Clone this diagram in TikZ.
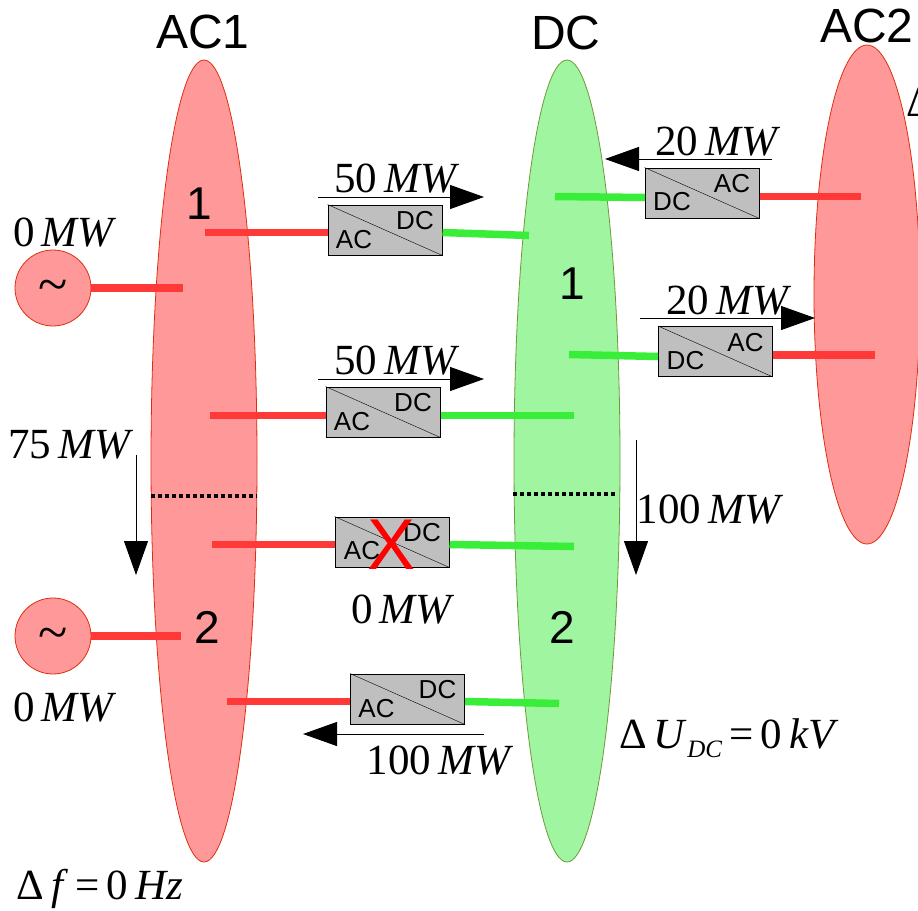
\documentclass[tikz,border=0pt]{standalone}
\usepackage{fontspec}
\setmainfont{Liberation Serif}
\newfontfamily\labelsans{Liberation Sans}
\usetikzlibrary{arrows.meta,shapes.geometric}
\definecolor{acfill}{HTML}{FF9999}
\definecolor{acedge}{HTML}{DD2E10}
\definecolor{dcfill}{HTML}{A0F5A0}
\definecolor{dcedge}{HTML}{6E9A3A}
\definecolor{acwire}{HTML}{FF3838}
\definecolor{dcwire}{HTML}{38EE38}
\tikzset{
  acbus/.style={ellipse, draw=acedge, fill=acfill, line width=0.8pt, minimum width=106pt, inner sep=0pt},
  dcbus/.style={ellipse, draw=dcedge, fill=dcfill, line width=0.8pt, minimum width=106pt, minimum height=802pt, inner sep=0pt},
  gen/.style={circle, draw=acedge, fill=acfill, line width=0.8pt, minimum size=76pt, inner sep=0pt, font=\fontsize{54}{54}\selectfont},
  acline/.style={acwire, line width=7.5pt},
  dcline/.style={dcwire, line width=7.5pt},
  convbox/.style={rectangle, draw=black, fill=black!25, line width=1pt, minimum width=114pt, minimum height=50pt, inner sep=0pt},
  convtxt/.style={inner sep=0pt, font=\labelsans\fontsize{26}{26}\selectfont},
  title/.style={inner sep=0pt, font=\labelsans\fontsize{48}{48}\selectfont},
  zone/.style={inner sep=0pt, font=\labelsans\fontsize{46}{46}\selectfont},
  power/.style={inner sep=0pt, yshift=-1pt, font=\fontsize{43}{43}\selectfont},
  flow/.style={black, line width=1pt, -{Triangle[length=34pt,width=24pt]}},
  cut/.style={black, line width=3.5pt, dash pattern=on 3.5pt off 3.5pt}
}
\begin{document}
\begin{tikzpicture}[x=1pt,y=-1pt]
    \clip (0,0) rectangle (918,910);

    % Buses
    \node[acbus, minimum height=802pt] (ac1) at (204,461) {};
    \node[dcbus] (dc) at (567,461) {};
    \node[acbus, minimum height=499pt] (ac2) at (867,294.5) {};
    \node[gen] (g1) at (53,288) {\raisebox{-14pt}[0pt][0pt]{\textasciitilde}};
    \node[gen] (g2) at (53,636) {\raisebox{-14pt}[0pt][0pt]{\textasciitilde}};

    % Titles
    \node[title] (ac1title) at (203,32) {AC1};
    \node[title] (dctitle) at (566,33) {DC};
    \node[title] (ac2title) at (867,26) {AC2};
    \node[zone] (zone1) at (199,204) {1};
    \node[zone] (zone2) at (207,627) {2};
    \node[zone] (zone3) at (572,284) {1};
    \node[zone] (zone4) at (562,627) {2};

    % Wire ends
    \coordinate (ga1) at (183,288);
    \coordinate (ga2) at (181,636);
    \coordinate (a1) at (205,232.5);
    \coordinate (a2) at (210,415.5);
    \coordinate (a3) at (212,544.5);
    \coordinate (a4) at (227,701.5);
    \coordinate (d1) at (529,235.5);
    \coordinate (d2) at (574,415.5);
    \coordinate (d3) at (574,546.5);
    \coordinate (d4) at (559,703.5);
    \coordinate (d5) at (555,196.5);
    \coordinate (d5b) at (645,197.5);
    \coordinate (d6) at (569,354.5);
    \coordinate (d6b) at (658,356.5);
    \coordinate (a5) at (861,196.5);
    \coordinate (a6) at (875,355);

    % Converters
    \node[convbox] (c1) at (385,230) {};
    \node[convbox] (c2) at (383,412) {};
    \node[convbox] (c3) at (392,542) {};
    \node[convbox] (c4) at (407.5,699) {};
    \node[convbox] (c5) at (702,193) {};
    \node[convbox] (c6) at (715.5,351.5) {};

    \draw[acline] (g1.east) -- (ga1);
    \draw[acline] (g2.east) -- (ga2);
    \draw[acline] (a1) -- (a1 -| c1.west);
    \draw[acline] (a2) -- (a2 -| c2.west);
    \draw[acline] (a3) -- (a3 -| c3.west);
    \draw[acline] (a4) -- (a4 -| c4.west);
    \draw[acline] (a5) -- (a5 -| c5.east);
    \draw[acline] (a6) -- (a6 -| c6.east);
    \draw[dcline] (c1.east |- a1) -- (d1);
    \draw[dcline] (c2.east |- d2) -- (d2);
    \draw[dcline] (c3.east |- a3) -- (d3);
    \draw[dcline] (c4.east |- a4) -- (d4);
    \draw[dcline] (d5) -- (d5b);
    \draw[dcline] (d6) -- (d6b);

    \draw (c1.north west) -- (c1.south east);
    \draw (c2.north west) -- (c2.south east);
    \draw (c3.north west) -- (c3.south east);
    \draw (c4.north west) -- (c4.south east);
    \draw (c5.north west) -- (c5.south east);
    \draw (c6.north west) -- (c6.south east);

    \node[convtxt, xshift=-31pt, yshift=-10pt] (c1ac) at (c1) {AC};
    \node[convtxt, xshift=30pt, yshift=9pt] (c1dc) at (c1) {DC};
    \node[convtxt, xshift=-31pt, yshift=-10pt] (c2ac) at (c2) {AC};
    \node[convtxt, xshift=30pt, yshift=9pt] (c2dc) at (c2) {DC};
    \node[convtxt, xshift=-30pt, yshift=-9pt] (c3ac) at (c3) {AC};
    \node[convtxt, xshift=30pt, yshift=9pt] (c3dc) at (c3) {DC};
    \node[convtxt, xshift=-31pt, yshift=-10pt] (c4ac) at (c4) {AC};
    \node[convtxt, xshift=30pt, yshift=9pt] (c4dc) at (c4) {DC};
    \node[convtxt, xshift=-30pt, yshift=-9pt] (c5dc) at (c5) {DC};
    \node[convtxt, xshift=30pt, yshift=9pt] (c5ac) at (c5) {AC};
    \node[convtxt, xshift=-30pt, yshift=-9pt] (c6dc) at (c6) {DC};
    \node[convtxt, xshift=30pt, yshift=9pt] (c6ac) at (c6) {AC};
    \node[inner sep=0pt, red, font=\labelsans\fontsize{72}{72}\selectfont] (c3x) at (392,545) {X};

    % Area cuts
    \coordinate (cut1a) at (151,496);
    \coordinate (cut1b) at (257,496);
    \coordinate (cut2a) at (513,494);
    \coordinate (cut2b) at (617,494);
    \draw[cut] (cut1a) -- (cut1b);
    \draw[cut] (cut2a) -- (cut2b);

    % Power flows
    \coordinate (f1a) at (318,197);
    \coordinate (f1b) at (484,197);
    \coordinate (f2a) at (318,379);
    \coordinate (f2b) at (484,379);
    \coordinate (f3a) at (772,159);
    \coordinate (f3b) at (605,159);
    \coordinate (f4a) at (640,318);
    \coordinate (f4b) at (815,318);
    \coordinate (f5a) at (484,734);
    \coordinate (f5b) at (303,734);
    \coordinate (f6a) at (136,455);
    \coordinate (f6b) at (136,575);
    \coordinate (f7a) at (636,440);
    \coordinate (f7b) at (636,575);
    \draw[flow] (f1a) -- (f1b);
    \draw[flow] (f2a) -- (f2b);
    \draw[flow] (f3a) -- (f3b);
    \draw[flow] (f4a) -- (f4b);
    \draw[flow] (f5a) -- (f5b);
    \draw[flow] (f6a) -- (f6b);
    \draw[flow] (f7a) -- (f7b);

    % Labels
    \node[power] (p1) at (397,178) {50\,\textit{MW}};
    \node[power] (p2) at (397,360) {50\,\textit{MW}};
    \node[power] (p3) at (718,141) {20\,\textit{MW}};
    \node[power] (p4) at (729,300) {20\,\textit{MW}};
    \node[power] (p5) at (403,609) {0\,\textit{MW}};
    \node[power] (p6) at (440,760) {100\,\textit{MW}};
    \node[power] (p7) at (710,509) {100\,\textit{MW}};
    \node[power] (p8) at (71,444) {75\,\textit{MW}};
    \node[power] (p9) at (65,232) {0\,\textit{MW}};
    \node[power] (p10) at (65,707) {0\,\textit{MW}};
    \node[power] (dudc) at (729,737) {Δ\,\textit{U}{\raisebox{-9pt}{\fontsize{25}{25}\selectfont\textit{DC}}}\,=\,0\,\textit{kV}};
    \node[power] (dfac1) at (100,888) {Δ\,\textit{f}\,=\,0\,\textit{Hz}};
    \node[power, anchor=west] (dfac2) at (906,101) {Δ};
\end{tikzpicture}
\end{document}
